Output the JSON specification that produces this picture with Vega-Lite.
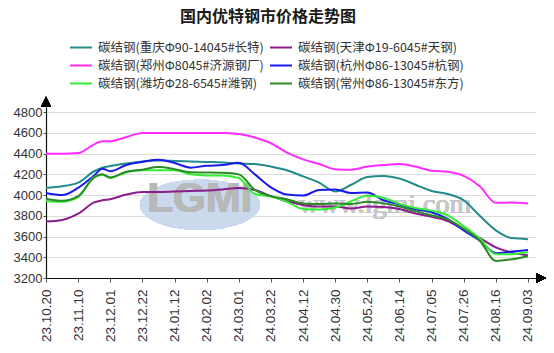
{
  "$schema": "https://vega.github.io/schema/vega-lite/v6.json",
  "width": 490,
  "height": 171,
  "autosize": {"type": "none"},
  "padding": {"left": 46, "top": 107, "right": 18, "bottom": 75},
  "background": "white",
  "title": {"text": "国内优特钢市价格走势图", "anchor": "middle", "fontSize": 16, "font": "Noto Sans CJK SC", "fontWeight": "bold", "color": "#1a1a1a", "dx": -23, "offset": 0, "baseline": "bottom"},
  "config": {"view": {"stroke": null}},
  "datasets": {
    "prices": [
      {"t": 0, "碳结钢(重庆Φ90-14045#长特)": 4070, "碳结钢(天津Φ19-6045#天钢)": 3745, "碳结钢(郑州Φ8045#济源钢厂)": 4400, "碳结钢(杭州Φ86-13045#杭钢)": 4020, "碳结钢(潍坊Φ28-6545#潍钢)": 3940, "碳结钢(常州Φ86-13045#东方)": 3965},
      {"t": 0.5, "碳结钢(重庆Φ90-14045#长特)": 4085, "碳结钢(天津Φ19-6045#天钢)": 3760, "碳结钢(郑州Φ8045#济源钢厂)": 4400, "碳结钢(杭州Φ86-13045#杭钢)": 4000, "碳结钢(潍坊Φ28-6545#潍钢)": 3935, "碳结钢(常州Φ86-13045#东方)": 3945},
      {"t": 1, "碳结钢(重庆Φ90-14045#长特)": 4120, "碳结钢(天津Φ19-6045#天钢)": 3820, "碳结钢(郑州Φ8045#济源钢厂)": 4405, "碳结钢(杭州Φ86-13045#杭钢)": 4070, "碳结钢(潍坊Φ28-6545#潍钢)": 3980, "碳结钢(常州Φ86-13045#东方)": 3990},
      {"t": 1.5, "碳结钢(重庆Φ90-14045#长特)": 4230, "碳结钢(天津Φ19-6045#天钢)": 3930, "碳结钢(郑州Φ8045#济源钢厂)": 4490, "碳结钢(杭州Φ86-13045#杭钢)": 4190, "碳结钢(潍坊Φ28-6545#潍钢)": 4175, "碳结钢(常州Φ86-13045#东方)": 4170},
      {"t": 1.75, "碳结钢(重庆Φ90-14045#长特)": 4265, "碳结钢(天津Φ19-6045#天钢)": 3950, "碳结钢(郑州Φ8045#济源钢厂)": 4520, "碳结钢(杭州Φ86-13045#杭钢)": 4255, "碳结钢(潍坊Φ28-6545#潍钢)": 4195, "碳结钢(常州Φ86-13045#东方)": 4200},
      {"t": 2, "碳结钢(重庆Φ90-14045#长特)": 4280, "碳结钢(天津Φ19-6045#天钢)": 3960, "碳结钢(郑州Φ8045#济源钢厂)": 4520, "碳结钢(杭州Φ86-13045#杭钢)": 4230, "碳结钢(潍坊Φ28-6545#潍钢)": 4165, "碳结钢(常州Φ86-13045#东方)": 4170},
      {"t": 2.5, "碳结钢(重庆Φ90-14045#长特)": 4305, "碳结钢(天津Φ19-6045#天钢)": 4005, "碳结钢(郑州Φ8045#济源钢厂)": 4560, "碳结钢(杭州Φ86-13045#杭钢)": 4290, "碳结钢(潍坊Φ28-6545#潍钢)": 4220, "碳结钢(常州Φ86-13045#东方)": 4225},
      {"t": 3, "碳结钢(重庆Φ90-14045#长特)": 4325, "碳结钢(天津Φ19-6045#天钢)": 4030, "碳结钢(郑州Φ8045#济源钢厂)": 4600, "碳结钢(杭州Φ86-13045#杭钢)": 4320, "碳结钢(潍坊Φ28-6545#潍钢)": 4240, "碳结钢(常州Φ86-13045#东方)": 4245},
      {"t": 3.5, "碳结钢(重庆Φ90-14045#长特)": 4333, "碳结钢(天津Φ19-6045#天钢)": 4030, "碳结钢(郑州Φ8045#济源钢厂)": 4600, "碳结钢(杭州Φ86-13045#杭钢)": 4340, "碳结钢(潍坊Φ28-6545#潍钢)": 4240, "碳结钢(常州Φ86-13045#东方)": 4270},
      {"t": 4, "碳结钢(重庆Φ90-14045#长特)": 4330, "碳结钢(天津Φ19-6045#天钢)": 4035, "碳结钢(郑州Φ8045#济源钢厂)": 4600, "碳结钢(杭州Φ86-13045#杭钢)": 4310, "碳结钢(潍坊Φ28-6545#潍钢)": 4240, "碳结钢(常州Φ86-13045#东方)": 4250},
      {"t": 4.5, "碳结钢(重庆Φ90-14045#长特)": 4325, "碳结钢(天津Φ19-6045#天钢)": 4040, "碳结钢(郑州Φ8045#济源钢厂)": 4600, "碳结钢(杭州Φ86-13045#杭钢)": 4265, "碳结钢(潍坊Φ28-6545#潍钢)": 4200, "碳结钢(常州Φ86-13045#东方)": 4220},
      {"t": 5, "碳结钢(重庆Φ90-14045#长特)": 4320, "碳结钢(天津Φ19-6045#天钢)": 4045, "碳结钢(郑州Φ8045#济源钢厂)": 4600, "碳结钢(杭州Φ86-13045#杭钢)": 4283, "碳结钢(潍坊Φ28-6545#潍钢)": 4190, "碳结钢(常州Φ86-13045#东方)": 4218},
      {"t": 5.5, "碳结钢(重庆Φ90-14045#长特)": 4315, "碳结钢(天津Φ19-6045#天钢)": 4055, "碳结钢(郑州Φ8045#济源钢厂)": 4600, "碳结钢(杭州Φ86-13045#杭钢)": 4290, "碳结钢(潍坊Φ28-6545#潍钢)": 4190, "碳结钢(常州Φ86-13045#东方)": 4215},
      {"t": 6, "碳结钢(重庆Φ90-14045#长特)": 4305, "碳结钢(天津Φ19-6045#天钢)": 4068, "碳结钢(郑州Φ8045#济源钢厂)": 4590, "碳结钢(杭州Φ86-13045#杭钢)": 4312, "碳结钢(潍坊Φ28-6545#潍钢)": 4165, "碳结钢(常州Φ86-13045#东方)": 4200},
      {"t": 6.5, "碳结钢(重庆Φ90-14045#长特)": 4300, "碳结钢(天津Φ19-6045#天钢)": 4050, "碳结钢(郑州Φ8045#济源钢厂)": 4555, "碳结钢(杭州Φ86-13045#杭钢)": 4200, "碳结钢(潍坊Φ28-6545#潍钢)": 4010, "碳结钢(常州Φ86-13045#东方)": 4050},
      {"t": 7, "碳结钢(重庆Φ90-14045#长特)": 4275, "碳结钢(天津Φ19-6045#天钢)": 3990, "碳结钢(郑州Φ8045#济源钢厂)": 4500, "碳结钢(杭州Φ86-13045#杭钢)": 4075, "碳结钢(潍坊Φ28-6545#潍钢)": 3985, "碳结钢(常州Φ86-13045#东方)": 3990},
      {"t": 7.5, "碳结钢(重庆Φ90-14045#长特)": 4240, "碳结钢(天津Φ19-6045#天钢)": 3940, "碳结钢(郑州Φ8045#济源钢厂)": 4410, "碳结钢(杭州Φ86-13045#杭钢)": 4005, "碳结钢(潍坊Φ28-6545#潍钢)": 3935, "碳结钢(常州Φ86-13045#东方)": 3960},
      {"t": 8, "碳结钢(重庆Φ90-14045#长特)": 4180, "碳结钢(天津Φ19-6045#天钢)": 3905, "碳结钢(郑州Φ8045#济源钢厂)": 4345, "碳结钢(杭州Φ86-13045#杭钢)": 3995, "碳结钢(潍坊Φ28-6545#潍钢)": 3865, "碳结钢(常州Φ86-13045#东方)": 3920},
      {"t": 8.5, "碳结钢(重庆Φ90-14045#长特)": 4120, "碳结钢(天津Φ19-6045#天钢)": 3890, "碳结钢(郑州Φ8045#济源钢厂)": 4300, "碳结钢(杭州Φ86-13045#杭钢)": 4050, "碳结钢(潍坊Φ28-6545#潍钢)": 3860, "碳结钢(常州Φ86-13045#东方)": 3915},
      {"t": 9, "碳结钢(重庆Φ90-14045#长特)": 4035, "碳结钢(天津Φ19-6045#天钢)": 3890, "碳结钢(郑州Φ8045#济源钢厂)": 4250, "碳结钢(杭州Φ86-13045#杭钢)": 4055, "碳结钢(潍坊Φ28-6545#潍钢)": 3880, "碳结钢(常州Φ86-13045#东方)": 3920},
      {"t": 9.5, "碳结钢(重庆Φ90-14045#长特)": 4100, "碳结钢(天津Φ19-6045#天钢)": 3870, "碳结钢(郑州Φ8045#济源钢厂)": 4245, "碳结钢(杭州Φ86-13045#杭钢)": 4020, "碳结钢(潍坊Φ28-6545#潍钢)": 3940, "碳结钢(常州Φ86-13045#东方)": 3915},
      {"t": 10, "碳结钢(重庆Φ90-14045#长特)": 4175, "碳结钢(天津Φ19-6045#天钢)": 3890, "碳结钢(郑州Φ8045#济源钢厂)": 4275, "碳结钢(杭州Φ86-13045#杭钢)": 4025, "碳结钢(潍坊Φ28-6545#潍钢)": 3993, "碳结钢(常州Φ86-13045#东方)": 3935},
      {"t": 10.5, "碳结钢(重庆Φ90-14045#长特)": 4185, "碳结钢(天津Φ19-6045#天钢)": 3885, "碳结钢(郑州Φ8045#济源钢厂)": 4290, "碳结钢(杭州Φ86-13045#杭钢)": 3950, "碳结钢(潍坊Φ28-6545#潍钢)": 3975, "碳结钢(常州Φ86-13045#东方)": 3920},
      {"t": 11, "碳结钢(重庆Φ90-14045#长特)": 4160, "碳结钢(天津Φ19-6045#天钢)": 3865, "碳结钢(郑州Φ8045#济源钢厂)": 4300, "碳结钢(杭州Φ86-13045#杭钢)": 3910, "碳结钢(潍坊Φ28-6545#潍钢)": 3915, "碳结钢(常州Φ86-13045#东方)": 3890},
      {"t": 11.5, "碳结钢(重庆Φ90-14045#长特)": 4100, "碳结钢(天津Φ19-6045#天钢)": 3822, "碳结钢(郑州Φ8045#济源钢厂)": 4275, "碳结钢(杭州Φ86-13045#杭钢)": 3862, "碳结钢(潍坊Φ28-6545#潍钢)": 3875, "碳结钢(常州Φ86-13045#东方)": 3845},
      {"t": 12, "碳结钢(重庆Φ90-14045#长特)": 4040, "碳结钢(天津Φ19-6045#天钢)": 3790, "碳结钢(郑州Φ8045#济源钢厂)": 4235, "碳结钢(杭州Φ86-13045#杭钢)": 3835, "碳结钢(潍坊Φ28-6545#潍钢)": 3850, "碳结钢(常州Φ86-13045#东方)": 3805},
      {"t": 12.5, "碳结钢(重庆Φ90-14045#长特)": 4010, "碳结钢(天津Φ19-6045#天钢)": 3750, "碳结钢(郑州Φ8045#济源钢厂)": 4225, "碳结钢(杭州Φ86-13045#杭钢)": 3770, "碳结钢(潍坊Φ28-6545#潍钢)": 3805, "碳结钢(常州Φ86-13045#东方)": 3765},
      {"t": 13, "碳结钢(重庆Φ90-14045#长特)": 3950, "碳结钢(天津Φ19-6045#天钢)": 3665, "碳结钢(郑州Φ8045#济源钢厂)": 4185, "碳结钢(杭州Φ86-13045#杭钢)": 3660, "碳结钢(潍坊Φ28-6545#潍钢)": 3700, "碳结钢(常州Φ86-13045#东方)": 3675},
      {"t": 13.5, "碳结钢(重庆Φ90-14045#长特)": 3800, "碳结钢(天津Φ19-6045#天钢)": 3585, "碳结钢(郑州Φ8045#济源钢厂)": 4085, "碳结钢(杭州Φ86-13045#杭钢)": 3560, "碳结钢(潍坊Φ28-6545#潍钢)": 3580, "碳结钢(常州Φ86-13045#东方)": 3560},
      {"t": 14, "碳结钢(重庆Φ90-14045#长特)": 3660, "碳结钢(天津Φ19-6045#天钢)": 3495, "碳结钢(郑州Φ8045#济源钢厂)": 3925, "碳结钢(杭州Φ86-13045#杭钢)": 3440, "碳结钢(潍坊Φ28-6545#潍钢)": 3430, "碳结钢(常州Φ86-13045#东方)": 3365},
      {"t": 14.5, "碳结钢(重庆Φ90-14045#长特)": 3585, "碳结钢(天津Φ19-6045#天钢)": 3445, "碳结钢(郑州Φ8045#济源钢厂)": 3928, "碳结钢(杭州Φ86-13045#杭钢)": 3455, "碳结钢(潍坊Φ28-6545#潍钢)": 3430, "碳结钢(常州Φ86-13045#东方)": 3380},
      {"t": 15, "碳结钢(重庆Φ90-14045#长特)": 3575, "碳结钢(天津Φ19-6045#天钢)": 3420, "碳结钢(郑州Φ8045#济源钢厂)": 3920, "碳结钢(杭州Φ86-13045#杭钢)": 3470, "碳结钢(潍坊Φ28-6545#潍钢)": 3450, "碳结钢(常州Φ86-13045#东方)": 3410}
    ]
  },
  "data": {"name": "prices"},
  "layer": [
    {
      "mark": {"type": "point", "shape": "M-1,0A1,0.42 0 1,1 1,0A1,0.42 0 1,1 -1,0Z", "filled": true, "color": "#cbd9ec", "opacity": 0.7, "size": 14400},
      "encoding": {
        "x": {"datum": 4.79, "type": "quantitative", "scale": {"domain": [0, 15.25], "nice": false, "zero": false},
          "axis": {"title": null, "values": [0,1,2,3,4,5,6,7,8,9,10,11,12,13,14,15],
            "labelExpr": "['23.10.20','23.11.10','23.12.01','23.12.22','24.01.12','24.02.02','24.03.01','24.03.22','24.04.12','24.04.30','24.05.24','24.06.14','24.07.05','24.07.26','24.08.16','24.09.03'][datum.value]",
            "labelAngle": -90, "labelAlign": "right", "labelBaseline": "middle", "labelFont": "Liberation Sans", "labelFontSize": 13.5, "labelColor": "#333",
            "labelPadding": 7, "tickSize": 4, "tickColor": "#555", "domainColor": "#111", "domainWidth": 1.2, "grid": false, "labelOverlap": false, "labelFlush": false}},
        "y": {"datum": 3906, "type": "quantitative", "scale": {"domain": [3200, 4850], "nice": false, "zero": false},
          "axis": {"title": null, "values": [3200,3400,3600,3800,4000,4200,4400,4600,4800], "format": "d",
            "labelFont": "Liberation Sans", "labelFontSize": 13, "labelColor": "#333", "labelPadding": 1, "tickSize": 3, "tickColor": "#555",
            "domainColor": "#111", "domainWidth": 1.2, "grid": true, "gridColor": "#dcdcdc", "gridWidth": 1.2, "labelOverlap": false, "labelFlush": false}}
      }
    },
    {
      "mark": {"type": "text", "text": "LGMI", "font": "Liberation Sans", "fontSize": 42, "fontWeight": "bold", "color": "#b8b8b8", "opacity": 0.7, "baseline": "middle", "align": "center"},
      "encoding": {
        "x": {"datum": 4.79, "type": "quantitative", "scale": {"domain": [0, 15.25], "nice": false, "zero": false},
          "axis": {"title": null, "values": [0,1,2,3,4,5,6,7,8,9,10,11,12,13,14,15],
            "labelExpr": "['23.10.20','23.11.10','23.12.01','23.12.22','24.01.12','24.02.02','24.03.01','24.03.22','24.04.12','24.04.30','24.05.24','24.06.14','24.07.05','24.07.26','24.08.16','24.09.03'][datum.value]",
            "labelAngle": -90, "labelAlign": "right", "labelBaseline": "middle", "labelFont": "Liberation Sans", "labelFontSize": 13.5, "labelColor": "#333",
            "labelPadding": 7, "tickSize": 4, "tickColor": "#555", "domainColor": "#111", "domainWidth": 1.2, "grid": false, "labelOverlap": false, "labelFlush": false}},
        "y": {"datum": 3964, "type": "quantitative", "scale": {"domain": [3200, 4850], "nice": false, "zero": false},
          "axis": {"title": null, "values": [3200,3400,3600,3800,4000,4200,4400,4600,4800], "format": "d",
            "labelFont": "Liberation Sans", "labelFontSize": 13, "labelColor": "#333", "labelPadding": 1, "tickSize": 3, "tickColor": "#555",
            "domainColor": "#111", "domainWidth": 1.2, "grid": true, "gridColor": "#dcdcdc", "gridWidth": 1.2, "labelOverlap": false, "labelFlush": false}}
      }
    },
    {
      "mark": {"type": "text", "text": "www.lgmi.com", "font": "Liberation Serif", "fontSize": 28, "color": "#c8c8c8", "opacity": 0.8, "baseline": "middle", "align": "center"},
      "encoding": {
        "x": {"datum": 10.55, "type": "quantitative", "scale": {"domain": [0, 15.25], "nice": false, "zero": false},
          "axis": {"title": null, "values": [0,1,2,3,4,5,6,7,8,9,10,11,12,13,14,15],
            "labelExpr": "['23.10.20','23.11.10','23.12.01','23.12.22','24.01.12','24.02.02','24.03.01','24.03.22','24.04.12','24.04.30','24.05.24','24.06.14','24.07.05','24.07.26','24.08.16','24.09.03'][datum.value]",
            "labelAngle": -90, "labelAlign": "right", "labelBaseline": "middle", "labelFont": "Liberation Sans", "labelFontSize": 13.5, "labelColor": "#333",
            "labelPadding": 7, "tickSize": 4, "tickColor": "#555", "domainColor": "#111", "domainWidth": 1.2, "grid": false, "labelOverlap": false, "labelFlush": false}},
        "y": {"datum": 3906, "type": "quantitative", "scale": {"domain": [3200, 4850], "nice": false, "zero": false},
          "axis": {"title": null, "values": [3200,3400,3600,3800,4000,4200,4400,4600,4800], "format": "d",
            "labelFont": "Liberation Sans", "labelFontSize": 13, "labelColor": "#333", "labelPadding": 1, "tickSize": 3, "tickColor": "#555",
            "domainColor": "#111", "domainWidth": 1.2, "grid": true, "gridColor": "#dcdcdc", "gridWidth": 1.2, "labelOverlap": false, "labelFlush": false}}
      }
    },
    {
      "transform": [
        {"fold": ["碳结钢(重庆Φ90-14045#长特)", "碳结钢(天津Φ19-6045#天钢)", "碳结钢(郑州Φ8045#济源钢厂)", "碳结钢(杭州Φ86-13045#杭钢)", "碳结钢(潍坊Φ28-6545#潍钢)", "碳结钢(常州Φ86-13045#东方)"], "as": ["s", "v"]}
      ],
      "mark": {"type": "line", "interpolate": "monotone", "strokeWidth": 2},
      "encoding": {
        "x": {"field": "t", "type": "quantitative", "scale": {"domain": [0, 15.25], "nice": false, "zero": false},
          "axis": {"title": null, "values": [0,1,2,3,4,5,6,7,8,9,10,11,12,13,14,15],
            "labelExpr": "['23.10.20','23.11.10','23.12.01','23.12.22','24.01.12','24.02.02','24.03.01','24.03.22','24.04.12','24.04.30','24.05.24','24.06.14','24.07.05','24.07.26','24.08.16','24.09.03'][datum.value]",
            "labelAngle": -90, "labelAlign": "right", "labelBaseline": "middle", "labelFont": "Liberation Sans", "labelFontSize": 13.5, "labelColor": "#333",
            "labelPadding": 7, "tickSize": 4, "tickColor": "#555", "domainColor": "#111", "domainWidth": 1.2, "grid": false, "labelOverlap": false, "labelFlush": false}},
        "y": {"field": "v", "type": "quantitative", "scale": {"domain": [3200, 4850], "nice": false, "zero": false},
          "axis": {"title": null, "values": [3200,3400,3600,3800,4000,4200,4400,4600,4800], "format": "d",
            "labelFont": "Liberation Sans", "labelFontSize": 13, "labelColor": "#333", "labelPadding": 1, "tickSize": 3, "tickColor": "#555",
            "domainColor": "#111", "domainWidth": 1.2, "grid": true, "gridColor": "#dcdcdc", "gridWidth": 1.2, "labelOverlap": false, "labelFlush": false}},
        "color": {
          "field": "s", "type": "nominal",
          "scale": {
            "domain": ["碳结钢(重庆Φ90-14045#长特)", "碳结钢(郑州Φ8045#济源钢厂)", "碳结钢(潍坊Φ28-6545#潍钢)", "碳结钢(天津Φ19-6045#天钢)", "碳结钢(杭州Φ86-13045#杭钢)", "碳结钢(常州Φ86-13045#东方)"],
            "range": ["#238b8b", "#ff2bff", "#33ee33", "#8b1c8b", "#1a1aee", "#2a8a2a"]
          },
          "legend": {
            "title": null, "orient": "none", "legendX": 28.5, "legendY": -66, "columns": 2,
            "symbolType": "M-2,0H2", "symbolSize": 121, "symbolStrokeWidth": 2,
            "labelFont": "Noto Sans CJK SC", "labelFontSize": 12.5, "labelColor": "#333", "labelLimit": 400,
            "labelOffset": 10.5, "columnPadding": 1, "rowPadding": 5, "padding": 0
          }
        }
      }
    },
    {
      "mark": {"type": "point", "shape": "M-1,1L0,-1L1,1Z", "filled": true, "color": "#000", "opacity": 1, "size": 100},
      "encoding": {
        "x": {"datum": 0, "type": "quantitative", "scale": {"domain": [0, 15.25], "nice": false, "zero": false},
          "axis": {"title": null, "values": [0,1,2,3,4,5,6,7,8,9,10,11,12,13,14,15],
            "labelExpr": "['23.10.20','23.11.10','23.12.01','23.12.22','24.01.12','24.02.02','24.03.01','24.03.22','24.04.12','24.04.30','24.05.24','24.06.14','24.07.05','24.07.26','24.08.16','24.09.03'][datum.value]",
            "labelAngle": -90, "labelAlign": "right", "labelBaseline": "middle", "labelFont": "Liberation Sans", "labelFontSize": 13.5, "labelColor": "#333",
            "labelPadding": 7, "tickSize": 4, "tickColor": "#555", "domainColor": "#111", "domainWidth": 1.2, "grid": false, "labelOverlap": false, "labelFlush": false}},
        "y": {"datum": 4901, "type": "quantitative", "scale": {"domain": [3200, 4850], "nice": false, "zero": false},
          "axis": {"title": null, "values": [3200,3400,3600,3800,4000,4200,4400,4600,4800], "format": "d",
            "labelFont": "Liberation Sans", "labelFontSize": 13, "labelColor": "#333", "labelPadding": 1, "tickSize": 3, "tickColor": "#555",
            "domainColor": "#111", "domainWidth": 1.2, "grid": true, "gridColor": "#dcdcdc", "gridWidth": 1.2, "labelOverlap": false, "labelFlush": false}}
      }
    },
    {
      "mark": {"type": "point", "shape": "M-1,-1L1,0L-1,1Z", "filled": true, "color": "#000", "opacity": 1, "size": 100},
      "encoding": {
        "x": {"datum": 15.41, "type": "quantitative", "scale": {"domain": [0, 15.25], "nice": false, "zero": false},
          "axis": {"title": null, "values": [0,1,2,3,4,5,6,7,8,9,10,11,12,13,14,15],
            "labelExpr": "['23.10.20','23.11.10','23.12.01','23.12.22','24.01.12','24.02.02','24.03.01','24.03.22','24.04.12','24.04.30','24.05.24','24.06.14','24.07.05','24.07.26','24.08.16','24.09.03'][datum.value]",
            "labelAngle": -90, "labelAlign": "right", "labelBaseline": "middle", "labelFont": "Liberation Sans", "labelFontSize": 13.5, "labelColor": "#333",
            "labelPadding": 7, "tickSize": 4, "tickColor": "#555", "domainColor": "#111", "domainWidth": 1.2, "grid": false, "labelOverlap": false, "labelFlush": false}},
        "y": {"datum": 3200, "type": "quantitative", "scale": {"domain": [3200, 4850], "nice": false, "zero": false},
          "axis": {"title": null, "values": [3200,3400,3600,3800,4000,4200,4400,4600,4800], "format": "d",
            "labelFont": "Liberation Sans", "labelFontSize": 13, "labelColor": "#333", "labelPadding": 1, "tickSize": 3, "tickColor": "#555",
            "domainColor": "#111", "domainWidth": 1.2, "grid": true, "gridColor": "#dcdcdc", "gridWidth": 1.2, "labelOverlap": false, "labelFlush": false}}
      }
    }
  ]
}
